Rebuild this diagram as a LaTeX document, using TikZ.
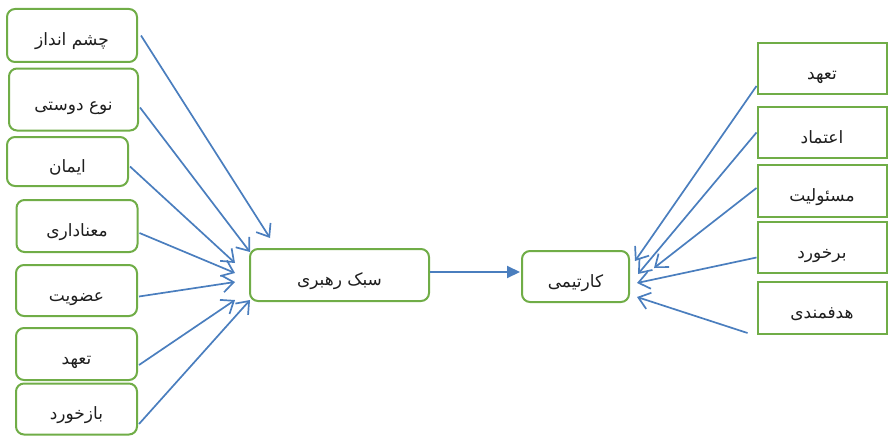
\documentclass[tikz,border=0pt]{standalone}
\usepackage{fontspec}
\newfontfamily\fa[Script=Arabic]{DejaVu Sans}
\TeXXeTstate=1
\usetikzlibrary{arrows.meta,calc}
\definecolor{boxgreen}{RGB}{112,173,71}
\definecolor{arrblue}{RGB}{74,126,190}
\definecolor{txt}{RGB}{30,30,30}
\newcommand\ptxt[1]{\smash{\lower10.5pt\hbox{\beginR #1\endR}}}
\begin{document}
\begin{tikzpicture}[x=1pt,y=-1pt,
  box/.style={draw=boxgreen, line width=2pt, rounded corners=8pt, fill=white,
    text=txt, font=\fa\fontsize{17}{20}\selectfont, inner sep=0pt},
  sbox/.style={box, rounded corners=0pt},
  conn/.style={draw=arrblue, line width=1.7pt,
    -{Straight Barb[length=11pt,width=17pt,line width=1.7pt]}},
  mainarrow/.style={draw=arrblue, line width=2pt, -{Triangle[length=13pt,width=12pt]}}]
\useasboundingbox (0,0) rectangle (888,436);

% left boxes
\node[box, minimum width=130pt, minimum height=53pt] (l1) at (72,35.5) {\ptxt{چشم انداز}};
\node[box, minimum width=129pt, minimum height=62pt] (l2) at (73.5,99.5) {\ptxt{نوع دوستی}};
\node[box, minimum width=121pt, minimum height=49pt] (l3) at (67.5,161.5) {\ptxt{ایمان}};
\node[box, minimum width=121pt, minimum height=52pt] (l4) at (77,226) {\ptxt{معناداری}};
\node[box, minimum width=121pt, minimum height=51pt] (l5) at (76.5,290.5) {\ptxt{عضویت}};
\node[box, minimum width=121pt, minimum height=52pt] (l6) at (76.5,354) {\ptxt{تعهد}};
\node[box, minimum width=121pt, minimum height=51pt] (l7) at (76.5,409) {\ptxt{بازخورد}};

% centre boxes
\node[box, minimum width=179pt, minimum height=52pt] (lead) at (339.5,275) {\ptxt{سبک رهبری}};
\node[box, minimum width=107pt, minimum height=51pt] (kart) at (575.5,276.5) {\ptxt{کارتیمی}};

% right boxes
\node[sbox, minimum width=129pt, minimum height=51pt] (r1) at (822,68.5) {\ptxt{تعهد}};
\node[sbox, minimum width=129pt, minimum height=51pt] (r2) at (822,132.5) {\ptxt{اعتماد}};
\node[sbox, minimum width=129pt, minimum height=52pt] (r3) at (822,191) {\ptxt{مسئولیت}};
\node[sbox, minimum width=129pt, minimum height=51pt] (r4) at (822,247.5) {\ptxt{برخورد}};
\node[sbox, minimum width=129pt, minimum height=52pt] (r5) at (822,308) {\ptxt{هدفمندی}};

% arrow tips near the lead box
\coordinate (t1) at (270,238);
\coordinate (t2) at (250,252);
\coordinate (t3) at (235,263);
\coordinate (t4) at (235,273);
\coordinate (t5) at (235,282);
\coordinate (t6) at (235,300);
\coordinate (t7) at (250,300);

\draw[conn] ($(l1.east)+(3,0)$) -- (t1);
\draw[conn] ($(l2.east)+(1,8)$) -- (t2);
\draw[conn] ($(l3.east)+(1,5)$) -- (t3);
\draw[conn] ($(l4.east)+(1,7)$) -- (t4);
\draw[conn] ($(l5.east)+(1,6)$) -- (t5);
\draw[conn] ($(l6.east)+(1,11)$) -- (t6);
\draw[conn] ($(l7.east)+(1,15)$) -- (t7);

% main arrow
\draw[mainarrow] ($(lead.east)+(0,-3)$) -- ($(kart.west)+(-1,-4.5)$);

% arrow tips near kart box
\coordinate (s1) at (635,261);
\coordinate (s2) at (638,274);
\coordinate (s3) at (654,268);
\coordinate (s4) at (637,283);
\coordinate (s5) at (637,297);

\draw[conn] ($(r1.south west)+(0,-9)$) -- (s1);
\draw[conn] (r2.west) -- (s2);
\draw[conn] ($(r3.west)+(0,-3)$) -- (s3);
\draw[conn] ($(r4.west)+(0,10)$) -- (s4);
\draw[conn] ($(r5.south west)+(-9,-2)$) -- (s5);
\end{tikzpicture}
\end{document}
